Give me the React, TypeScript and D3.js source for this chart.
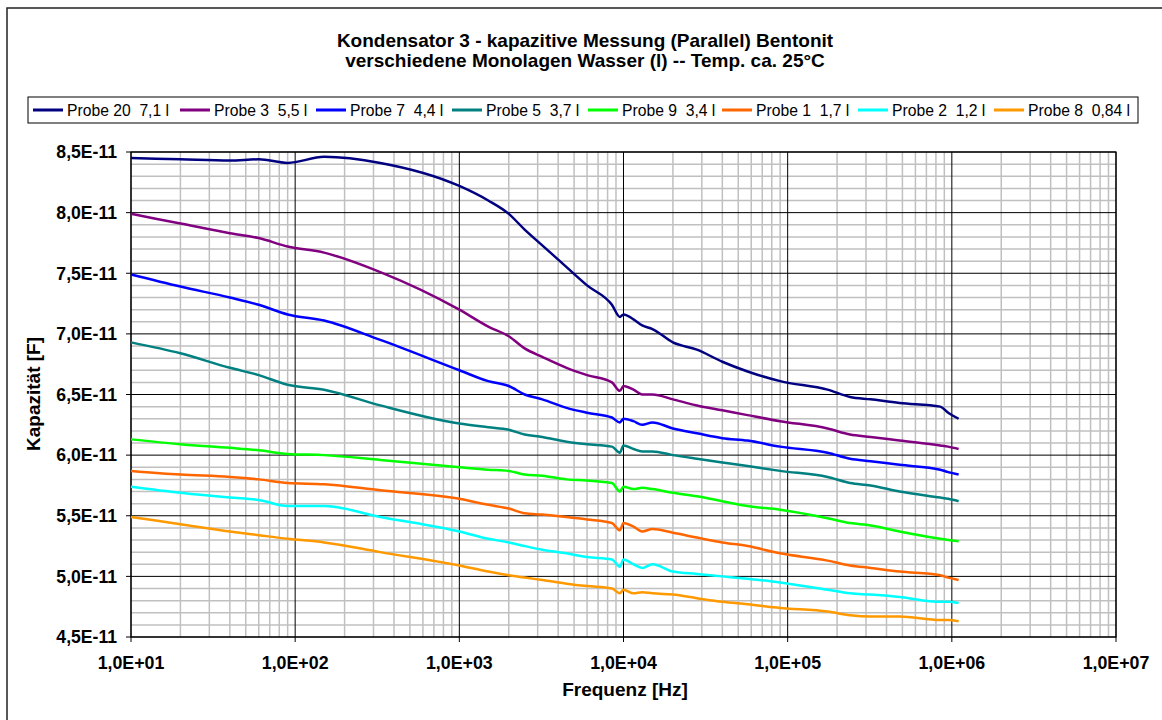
import React from "react";
import * as d3 from "d3";

const freqs = [10, 20, 40, 60, 90, 150, 330, 1000, 1500, 2000, 2500, 3200, 4500, 6000, 8500, 9500, 10000, 11500, 13000, 15000, 20000, 28000, 40000, 57000, 90000, 175000, 240000, 320000, 480000, 850000, 950000, 1100000];

const probe20 = [8.45, 8.44, 8.43, 8.44, 8.41, 8.46, 8.41, 8.22, 8.10, 7.99, 7.86, 7.73, 7.55, 7.40, 7.24, 7.14, 7.16, 7.12, 7.07, 7.04, 6.93, 6.87, 6.77, 6.69, 6.61, 6.54, 6.48, 6.46, 6.43, 6.40, 6.35, 6.30];
const probe3 = [7.99, 7.91, 7.83, 7.79, 7.72, 7.67, 7.51, 7.20, 7.06, 6.98, 6.88, 6.81, 6.72, 6.66, 6.60, 6.53, 6.57, 6.54, 6.50, 6.50, 6.46, 6.41, 6.37, 6.33, 6.28, 6.22, 6.17, 6.15, 6.12, 6.08, 6.07, 6.05];
const probe7 = [7.49, 7.39, 7.30, 7.24, 7.16, 7.11, 6.95, 6.70, 6.61, 6.57, 6.50, 6.46, 6.39, 6.35, 6.31, 6.27, 6.30, 6.28, 6.25, 6.27, 6.22, 6.18, 6.14, 6.12, 6.07, 6.02, 5.97, 5.95, 5.92, 5.88, 5.86, 5.84];
const probe5 = [6.93, 6.84, 6.72, 6.66, 6.58, 6.54, 6.41, 6.26, 6.23, 6.21, 6.17, 6.15, 6.11, 6.09, 6.07, 6.02, 6.08, 6.05, 6.03, 6.03, 6.00, 5.97, 5.94, 5.91, 5.87, 5.82, 5.77, 5.75, 5.70, 5.65, 5.64, 5.62];
const probe9 = [6.13, 6.09, 6.06, 6.04, 6.01, 6.00, 5.96, 5.90, 5.88, 5.87, 5.84, 5.83, 5.80, 5.79, 5.77, 5.70, 5.74, 5.72, 5.73, 5.72, 5.69, 5.66, 5.62, 5.58, 5.55, 5.48, 5.44, 5.42, 5.37, 5.31, 5.30, 5.29];
const probe1 = [5.87, 5.84, 5.82, 5.80, 5.77, 5.76, 5.71, 5.64, 5.59, 5.56, 5.52, 5.51, 5.49, 5.47, 5.44, 5.38, 5.44, 5.41, 5.37, 5.39, 5.36, 5.32, 5.28, 5.25, 5.19, 5.13, 5.09, 5.07, 5.04, 5.01, 4.99, 4.97];
const probe2 = [5.74, 5.69, 5.65, 5.63, 5.58, 5.58, 5.49, 5.37, 5.31, 5.28, 5.25, 5.22, 5.19, 5.16, 5.14, 5.08, 5.14, 5.10, 5.07, 5.10, 5.04, 5.02, 5.00, 4.98, 4.95, 4.89, 4.86, 4.85, 4.83, 4.79, 4.79, 4.78];
const probe8 = [5.49, 5.43, 5.37, 5.34, 5.31, 5.28, 5.20, 5.09, 5.04, 5.01, 4.99, 4.97, 4.94, 4.92, 4.90, 4.86, 4.89, 4.86, 4.87, 4.86, 4.85, 4.82, 4.79, 4.77, 4.74, 4.71, 4.68, 4.67, 4.67, 4.64, 4.64, 4.63];

const seriesNames = ["Probe 20  7,1 l", "Probe 3  5,5 l", "Probe 7  4,4 l", "Probe 5  3,7 l", "Probe 9  3,4 l", "Probe 1  1,7 l", "Probe 2  1,2 l", "Probe 8  0,84 l"];
const seriesValues = [probe20, probe3, probe7, probe5, probe9, probe1, probe2, probe8];
const seriesColors = ["#000080", "#800080", "#0000FF", "#008080", "#00FF00", "#FF6600", "#00FFFF", "#FF9900"];

const xTickValues = [1e1, 1e2, 1e3, 1e4, 1e5, 1e6, 1e7];
const xTickLabels = ["1,0E+01", "1,0E+02", "1,0E+03", "1,0E+04", "1,0E+05", "1,0E+06", "1,0E+07"];
const yTickValues = [4.5, 5.0, 5.5, 6.0, 6.5, 7.0, 7.5, 8.0, 8.5];
const yTickLabels = ["4,5E-11", "5,0E-11", "5,5E-11", "6,0E-11", "6,5E-11", "7,0E-11", "7,5E-11", "8,0E-11", "8,5E-11"];
const legendX = [33, 180, 316, 452, 588, 722, 858, 994];

const titleLines = ["Kondensator 3 - kapazitive Messung (Parallel) Bentonit", "verschiedene Monolagen Wasser (l) -- Temp. ca. 25°C"];

export default function App() {
  const W = 1162, H = 720;
  const left = 131, right = 1116, top = 152, bottom = 637;
  const x = d3.scaleLog().domain([10, 1e7]).range([left, right]);
  const y = d3.scaleLinear().domain([4.5, 8.5]).range([bottom, top]);
  const font = "'Liberation Sans', Arial, sans-serif";

  const minorX: number[] = [];
  for (let e = 1; e < 7; e++) for (let m = 2; m <= 9; m++) minorX.push(m * Math.pow(10, e));
  const minorY: number[] = [];
  for (let i = 0; i <= 40; i++) {
    const v = 4.5 + i * 0.1;
    if (i % 5 !== 0) minorY.push(v);
  }

  const line = d3
    .line<number>()
    .x((_, i) => x(freqs[i]))
    .y((d) => y(d))
    .curve(d3.curveMonotoneX);

  return (
    <svg width={W} height={H} style={{ position: "absolute", left: 0, top: 0, background: "#fff" }} fontFamily={font}>
      <rect x={7} y={8} width={1170} height={740} fill="#fff" stroke="#222" strokeWidth={1.5} />
      {titleLines.map((t, i) => (
        <text key={i} x={585} y={47 + i * 20} textAnchor="middle" fontWeight="bold" fontSize={19}>
          {t}
        </text>
      ))}
      <rect x={28} y={97} width={1110} height={26} fill="#fff" stroke="#000" strokeWidth={1} />
      {seriesNames.map((n, i) => (
        <g key={n}>
          <line x1={legendX[i]} x2={legendX[i] + 30} y1={110} y2={110} stroke={seriesColors[i]} strokeWidth={3} />
          <text x={legendX[i] + 34} y={116} fontSize={15.7} style={{ whiteSpace: "pre" }}>
            {n}
          </text>
        </g>
      ))}
      <rect x={left} y={top} width={right - left} height={bottom - top} fill="#fff" />
      {minorX.map((v) => (
        <line key={"mx" + v} x1={x(v)} x2={x(v)} y1={top} y2={bottom} stroke="#c0c0c0" strokeWidth={1.5} />
      ))}
      {minorY.map((v) => (
        <line key={"my" + v} x1={left} x2={right} y1={y(v)} y2={y(v)} stroke="#c0c0c0" strokeWidth={1.5} />
      ))}
      {xTickValues.map((v) => (
        <line key={"Mx" + v} x1={x(v)} x2={x(v)} y1={top} y2={bottom + 5} stroke="#000" strokeWidth={1} />
      ))}
      {yTickValues.map((v) => (
        <line key={"My" + v} x1={left - 5} x2={right} y1={y(v)} y2={y(v)} stroke="#000" strokeWidth={1} />
      ))}
      <rect x={left} y={top} width={right - left} height={bottom - top} fill="none" stroke="#000" strokeWidth={1.2} />
      {seriesValues.map((vals, i) => (
        <path key={i} d={line(vals) || ""} fill="none" stroke={seriesColors[i]} strokeWidth={2.5} strokeLinejoin="round" />
      ))}
      {yTickValues.map((v, i) => (
        <text key={"yl" + v} x={117} y={y(v) + 6.3} textAnchor="end" fontWeight="bold" fontSize={17.6}>
          {yTickLabels[i]}
        </text>
      ))}
      {xTickValues.map((v, i) => (
        <text key={"xl" + v} x={x(v)} y={669} textAnchor="middle" fontWeight="bold" fontSize={17.8}>
          {xTickLabels[i]}
        </text>
      ))}
      <text x={625} y={696} textAnchor="middle" fontWeight="bold" fontSize={19}>
        Frequenz [Hz]
      </text>
      <text transform={`translate(40,394) rotate(-90)`} textAnchor="middle" fontWeight="bold" fontSize={19}>
        Kapazität [F]
      </text>
    </svg>
  );
}
